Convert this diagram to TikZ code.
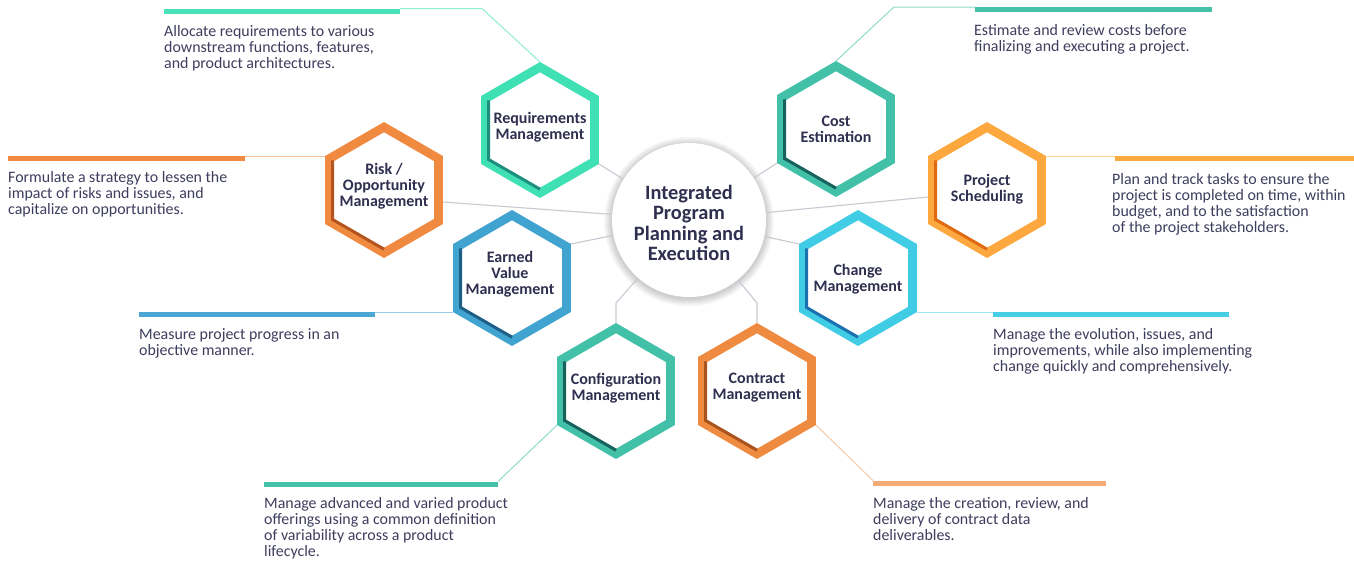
\documentclass[tikz,border=0pt]{standalone}
\usepackage{fontspec}
\setmainfont{Carlito}
\usetikzlibrary{calc}
\pgfdeclarelayer{back}
\pgfsetlayers{back,main}

% text colours
\definecolor{ink}{HTML}{3D3D5E}
\definecolor{labelink}{HTML}{2F2F50}
\definecolor{linkgray}{HTML}{C9C9D3}
% rim / inner shade / bar / thin leader colours per cell
\definecolor{rimMint}{HTML}{40E0B5}\definecolor{shMint}{HTML}{1E8E7E}
\definecolor{barMint}{HTML}{48E2BA}\definecolor{leadMint}{HTML}{8EEED4}
\definecolor{rimTeal}{HTML}{42C1A8}\definecolor{shTeal}{HTML}{17625D}
\definecolor{barTeal}{HTML}{45C0A9}\definecolor{leadTeal}{HTML}{8FDCCB}
\definecolor{rimRisk}{HTML}{F08A40}\definecolor{shRisk}{HTML}{B45520}
\definecolor{barRisk}{HTML}{F08A42}\definecolor{leadRisk}{HTML}{F7C29B}
\definecolor{rimSched}{HTML}{FDA83F}\definecolor{shSched}{HTML}{E06A12}
\definecolor{barSched}{HTML}{FBAA40}\definecolor{leadSched}{HTML}{FDD3A0}
\definecolor{rimEV}{HTML}{41A3CF}\definecolor{shEV}{HTML}{1E5F88}
\definecolor{barEV}{HTML}{4AA7D3}\definecolor{leadEV}{HTML}{9DCCE6}
\definecolor{rimChange}{HTML}{40CCE4}\definecolor{shChange}{HTML}{1C70B0}
\definecolor{barChange}{HTML}{45CEE6}\definecolor{leadChange}{HTML}{9CE4F1}
\definecolor{rimContract}{HTML}{EF8B40}\definecolor{shContract}{HTML}{A9541E}
\definecolor{barContract}{HTML}{F5AB78}\definecolor{leadContract}{HTML}{F8C9A5}

\tikzset{
  % anchored at the baseline of the last line
  desc/.style={anchor=base west, inner sep=0pt, align=left, text=ink,
    font=\fontsize{15.9}{16.2}\selectfont},
  hexlabel/.style={inner sep=0pt, align=center, text=labelink,
    font=\bfseries\fontsize{16}{16}\selectfont},
  hub/.style={circle, fill=white, minimum size=154pt, inner sep=0pt},
  hubtitle/.style={inner sep=0pt, align=center, text=labelink,
    font=\bfseries\fontsize{20.4}{20.5}\selectfont},
  link/.style={draw=linkgray, line width=1.1pt, line join=round},
  lead/.style={line width=1pt, line join=round},
  bar/.style={line width=5pt}
}

% one hexagonal cell: #1 name, #2 centre, #3 rim colour, #4 inner shade,
% #5 label position (relative), #6 label
\newcommand{\hexcell}[6]{%
  \begin{scope}[shift={#2}]
    \fill[#3] (270:68) -- (330:68) -- (30:68) -- (90:68) -- (150:68) -- (210:68) -- cycle;
    \fill[white] (270:57.6) -- (330:57.6) -- (30:57.6) -- (90:57.6) -- (150:57.6) -- (210:57.6) -- cycle;
    \draw[#4, line width=3pt, line join=miter] (210:59.2) -- (150:59.2) -- (90:59.2);
    \coordinate (#1-n) at (270:68);
    \coordinate (#1-ne) at (330:68);
    \coordinate (#1-se) at (30:68);
    \coordinate (#1-s) at (90:68);
    \coordinate (#1-sw) at (150:68);
    \coordinate (#1-nw) at (210:68);
    \node[hexlabel] (#1) at #5 {#6};
  \end{scope}}

\begin{document}
\begin{tikzpicture}[x=1pt, y=-1pt]
\useasboundingbox (0,0) rectangle (1354,563);

% central hub
\node[hub] (hub) at (689,220) {};
\node[hubtitle] (hubtitle) at (689,223) {Integrated\\Program\\Planning and\\Execution};

% the eight cells
\hexcell{req}{(540,130)}{rimMint}{shMint}{(0,-3)}{Requirements\\Management}
\hexcell{cost}{(836,129)}{rimTeal}{shTeal}{(0,0)}{Cost\\Estimation}
\hexcell{risk}{(384,190)}{rimRisk}{shRisk}{(0,-4)}{Risk /\\Opportunity\\Management}
\hexcell{sched}{(987,190)}{rimSched}{shSched}{(0,-1)}{Project\\Scheduling}
\hexcell{ev}{(512,278)}{rimEV}{shEV}{(-2,-4)}{Earned\\Value\\Management}
\hexcell{change}{(858,278)}{rimChange}{shChange}{(0,1)}{Change\\Management}
\hexcell{config}{(616,391)}{rimTeal}{shTeal}{(0,-3)}{Configuration\\Management}
\hexcell{contract}{(757,391)}{rimContract}{shContract}{(0,-3)}{Contract\\Management}

% leader bends and bar ends
\coordinate (req-k) at (482,8.5);    \coordinate (req-b) at (400,8.5);
\coordinate (cost-k) at (894,7);     \coordinate (cost-b) at (975,7);
\coordinate (risk-b) at (245,156);
\coordinate (sched-b) at (1115,156);
\coordinate (ev-b) at (375,312);
\coordinate (change-b) at (993,312);
\coordinate (config-b) at (498,481.5);
\coordinate (contract-b) at (873,480.5);

% leaders
\draw[lead, leadMint] (req-n) -- (req-k) -- (req-b);
\draw[bar, barMint] (164,11.5) -- (400,11.5);
\draw[lead, leadTeal] (cost-n) -- (cost-k) -- (cost-b);
\draw[bar, barTeal] (975,9.5) -- (1212,9.5);
\draw[lead, leadRisk] (risk-nw) -- (risk-b);
\draw[bar, barRisk] (8,158.5) -- (245,158.5);
\draw[lead, leadSched] (sched-ne) -- (sched-b);
\draw[bar, barSched] (1115,158.5) -- (1354,158.5);
\draw[lead, leadEV] (ev-sw) -- (ev-b);
\draw[bar, barEV] (139,314.5) -- (375,314.5);
\draw[lead, leadChange] (change-se) -- (change-b);
\draw[bar, barChange] (993,314.5) -- (1229,314.5);
\draw[lead, leadTeal] (config-sw) -- (config-b);
\draw[bar, barTeal] (264,484) -- (498,484);
\draw[lead, leadContract] (contract-se) -- (contract-b);
\draw[bar, barContract] (873,483) -- (1106,483);

% descriptions (positions are the last line's baseline)
\node[desc] (reqtext) at (164,68.4) {Allocate requirements to various\\downstream functions, features,\\and product architectures.};
\node[desc] (costtext) at (974,51.2) {Estimate and review costs before\\finalizing and executing a project.};
\node[desc] (risktext) at (8,214.4) {Formulate a strategy to lessen the\\impact of risks and issues, and\\capitalize on opportunities.};
\node[desc] (schedtext) at (1112,232.6) {Plan and track tasks to ensure the\\project is completed on time, within\\budget, and to the satisfaction\\of the project stakeholders.};
\node[desc] (evtext) at (139,355.2) {Measure project progress in an\\objective manner.};
\node[desc] (changetext) at (993,371.4) {Manage the evolution, issues, and\\improvements, while also implementing\\change quickly and comprehensively.};
\node[desc] (configtext) at (264,556.6) {Manage advanced and varied product\\offerings using a common definition\\of variability across a product\\lifecycle.};
\node[desc] (contracttext) at (873,540.4) {Manage the creation, review, and\\delivery of contract data\\deliverables.};

% spokes and hub glow, behind everything
\coordinate (risk-p) at (443,202);
\coordinate (sched-p) at (928,197);
\coordinate (config-k) at (616,303);
\coordinate (contract-k) at (757,303);
\begin{pgfonlayer}{back}
  \fill[white] (0,0) rectangle (1354,563);
  \foreach \k in {1,...,8}{
    \pgfmathsetmacro\rr{77+\k}
    \fill[black, opacity=0.022] (689,221.5) circle [radius=\rr pt];
  }
  \draw[link] (req-se) -- (hub);
  \draw[link] (risk-p) -- (hub);
  \draw[link] (ev-ne) -- (hub);
  \draw[link] (cost-sw) -- (hub);
  \draw[link] (sched-p) -- (hub);
  \draw[link] (change-nw) -- (hub);
  \draw[link] (config-n) -- (config-k) -- (hub);
  \draw[link] (contract-n) -- (contract-k) -- (hub);
\end{pgfonlayer}
\end{tikzpicture}
\end{document}
